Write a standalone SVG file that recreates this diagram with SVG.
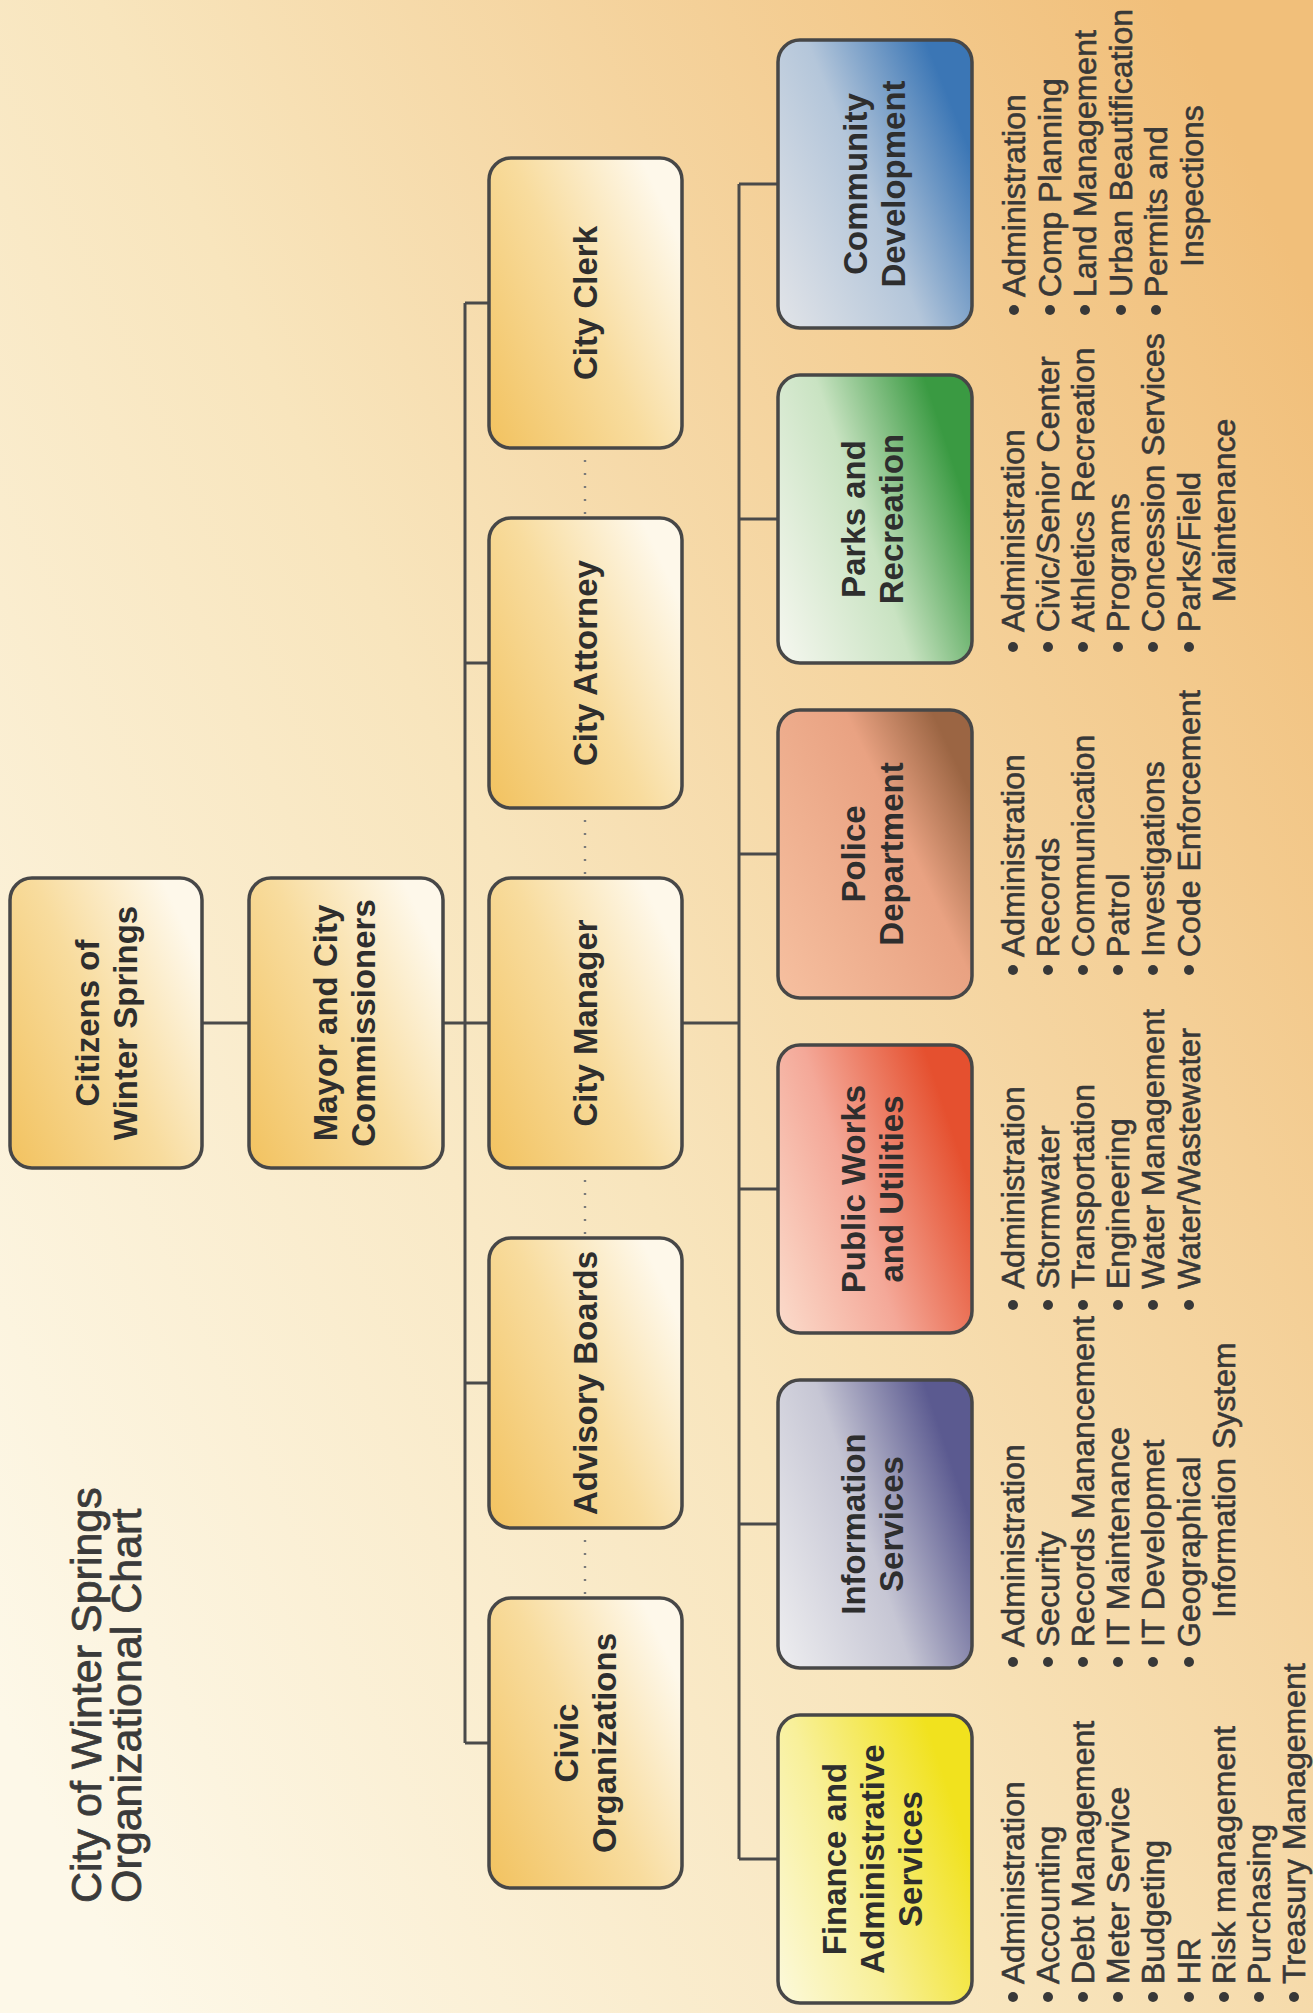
<svg xmlns="http://www.w3.org/2000/svg" width="1313" height="2013" viewBox="0 0 1313 2013">
<defs>
<linearGradient id="bg" x1="0" y1="0.85" x2="1" y2="0.15">
<stop offset="0" stop-color="#fdf8e8"/>
<stop offset="0.45" stop-color="#f8e5bd"/>
<stop offset="1" stop-color="#f1bf7a"/>
</linearGradient>
<linearGradient id="gold" x1="0" y1="0" x2="0.7" y2="1">
<stop offset="0" stop-color="#f2c25f"/>
<stop offset="0.55" stop-color="#f8dc9e"/>
<stop offset="1" stop-color="#fef8ea"/>
</linearGradient>
<linearGradient id="gFin" x1="0" y1="0" x2="0.5" y2="1">
<stop offset="0" stop-color="#fcf9dc"/>
<stop offset="0.45" stop-color="#f8f09a"/>
<stop offset="1" stop-color="#f1e21e"/>
</linearGradient>
<linearGradient id="gInf" x1="0" y1="0" x2="0.5" y2="1">
<stop offset="0" stop-color="#eeeef0"/>
<stop offset="0.55" stop-color="#c6c6d4"/>
<stop offset="1" stop-color="#5b5a90"/>
</linearGradient>
<linearGradient id="gPW" x1="0" y1="0" x2="0.5" y2="1">
<stop offset="0" stop-color="#fbdccc"/>
<stop offset="0.5" stop-color="#f4a898"/>
<stop offset="1" stop-color="#e5502f"/>
</linearGradient>
<linearGradient id="gPol" x1="0" y1="0" x2="0.7" y2="1">
<stop offset="0" stop-color="#f6c0a0"/>
<stop offset="0.7" stop-color="#e9a282"/>
<stop offset="1" stop-color="#9b6543"/>
</linearGradient>
<linearGradient id="gPar" x1="0" y1="0" x2="0.5" y2="1">
<stop offset="0" stop-color="#f6f7f0"/>
<stop offset="0.55" stop-color="#c9e3c2"/>
<stop offset="1" stop-color="#3a9a42"/>
</linearGradient>
<linearGradient id="gCom" x1="0" y1="0" x2="0.6" y2="1">
<stop offset="0" stop-color="#e2e4e8"/>
<stop offset="0.55" stop-color="#b4c6da"/>
<stop offset="1" stop-color="#3b76b5"/>
</linearGradient>
<style>
.box{stroke:#474747;stroke-width:3.5}
.t{font-family:"Liberation Sans",Arial,sans-serif;font-weight:bold;font-size:33px;fill:#2e2e2e;text-anchor:middle;dominant-baseline:central}
.li{font-family:"Liberation Sans",Arial,sans-serif;font-size:32px;fill:#383838;stroke:#383838;stroke-width:0.6;dominant-baseline:central}
.ti{font-family:"Liberation Sans",Arial,sans-serif;font-size:43px;fill:#3a3a3a;stroke:#3a3a3a;stroke-width:0.8;dominant-baseline:central}
.ln{stroke:#4a4a4a;stroke-width:3;fill:none}
.dt{stroke:#7a7a7a;stroke-width:2.4;fill:none;stroke-dasharray:2 11}
.b{fill:#383838}
</style>
</defs>
<rect x="0" y="0" width="1313" height="2013" fill="url(#bg)"/>
<g transform="translate(0,2013) rotate(-90)">
<g id="title">
<text class="ti" x="110" y="86">City of Winter Springs</text>
<text class="ti" x="110" y="126">Organizational Chart</text>
</g>
<g id="connectors">
<path class="ln" d="M990 202V249M990 443V489M990 682V739"/>
<path class="ln" d="M270 465H1710M270 465V489M630 465V489M1350 465V489M1710 465V489"/>
<path class="ln" d="M154 739H1829M154 739V778M489 739V778M824 739V778M1159 739V778M1494 739V778M1829 739V778"/>
<path class="dt" d="M419 585H483M779 585H843M1139 585H1203M1499 585H1563"/>
</g>
<g id="citizens">
<rect class="box" x="845" y="10" width="290" height="192" rx="22" fill="url(#gold)"/>
<text class="t" x="990" y="87">Citizens of</text>
<text class="t" x="990" y="125">Winter Springs</text>
</g>
<g id="mayor">
<rect class="box" x="845" y="249" width="290" height="194" rx="22" fill="url(#gold)"/>
<text class="t" x="990" y="325">Mayor and City</text>
<text class="t" x="990" y="363">Commissioners</text>
</g>
<g id="civic">
<rect class="box" x="125" y="489" width="290" height="193" rx="22" fill="url(#gold)"/>
<text class="t" x="270" y="566">Civic</text>
<text class="t" x="270" y="604">Organizations</text>
</g>
<g id="advisory">
<rect class="box" x="485" y="489" width="290" height="193" rx="22" fill="url(#gold)"/>
<text class="t" x="630" y="585">Advisory Boards</text>
</g>
<g id="manager">
<rect class="box" x="845" y="489" width="290" height="193" rx="22" fill="url(#gold)"/>
<text class="t" x="990" y="585">City Manager</text>
</g>
<g id="attorney">
<rect class="box" x="1205" y="489" width="290" height="193" rx="22" fill="url(#gold)"/>
<text class="t" x="1350" y="585">City Attorney</text>
</g>
<g id="clerk">
<rect class="box" x="1565" y="489" width="290" height="193" rx="22" fill="url(#gold)"/>
<text class="t" x="1710" y="585">City Clerk</text>
</g>
<g id="finance">
<rect class="box" x="10" y="778" width="288" height="194" rx="22" fill="url(#gFin)"/>
<text class="t" x="154" y="834">Finance and</text>
<text class="t" x="154" y="872">Administrative</text>
<text class="t" x="154" y="910">Services</text>
<g class="b"><circle cx="16" cy="1013" r="5"/><circle cx="16" cy="1048" r="5"/><circle cx="16" cy="1083" r="5"/><circle cx="16" cy="1118" r="5"/><circle cx="16" cy="1153" r="5"/><circle cx="16" cy="1189" r="5"/><circle cx="16" cy="1224" r="5"/><circle cx="16" cy="1259" r="5"/><circle cx="16" cy="1294" r="5"/></g>
<text class="li" x="29" y="1013">Administration</text>
<text class="li" x="29" y="1048">Accounting</text>
<text class="li" x="29" y="1083">Debt Management</text>
<text class="li" x="29" y="1118">Meter Service</text>
<text class="li" x="29" y="1153">Budgeting</text>
<text class="li" x="29" y="1189">HR</text>
<text class="li" x="29" y="1224">Risk management</text>
<text class="li" x="29" y="1259">Purchasing</text>
<text class="li" x="29" y="1294">Treasury Management</text>
</g>
<g id="info">
<rect class="box" x="345" y="778" width="288" height="194" rx="22" fill="url(#gInf)"/>
<text class="t" x="489" y="853">Information</text>
<text class="t" x="489" y="891">Services</text>
<g class="b"><circle cx="351" cy="1013" r="5"/><circle cx="351" cy="1048" r="5"/><circle cx="351" cy="1083" r="5"/><circle cx="351" cy="1118" r="5"/><circle cx="351" cy="1153" r="5"/><circle cx="351" cy="1189" r="5"/></g>
<text class="li" x="366" y="1013">Administration</text>
<text class="li" x="366" y="1048">Security</text>
<text class="li" x="366" y="1083">Records Manancement</text>
<text class="li" x="366" y="1118">IT Maintenance</text>
<text class="li" x="366" y="1153">IT Developmet</text>
<text class="li" x="366" y="1189">Geographical</text>
<text class="li" x="395" y="1224">Information System</text>
</g>
<g id="publicworks">
<rect class="box" x="680" y="778" width="288" height="194" rx="22" fill="url(#gPW)"/>
<text class="t" x="824" y="853">Public Works</text>
<text class="t" x="824" y="891">and Utilities</text>
<g class="b"><circle cx="708" cy="1013" r="5"/><circle cx="708" cy="1048" r="5"/><circle cx="708" cy="1083" r="5"/><circle cx="708" cy="1118" r="5"/><circle cx="708" cy="1153" r="5"/><circle cx="708" cy="1189" r="5"/></g>
<text class="li" x="724" y="1013">Administration</text>
<text class="li" x="724" y="1048">Stormwater</text>
<text class="li" x="724" y="1083">Transportation</text>
<text class="li" x="724" y="1118">Engineering</text>
<text class="li" x="724" y="1153">Water Management</text>
<text class="li" x="724" y="1189">Water/Wastewater</text>
</g>
<g id="police">
<rect class="box" x="1015" y="778" width="288" height="194" rx="22" fill="url(#gPol)"/>
<text class="t" x="1159" y="853">Police</text>
<text class="t" x="1159" y="891">Department</text>
<g class="b"><circle cx="1043" cy="1013" r="5"/><circle cx="1043" cy="1048" r="5"/><circle cx="1043" cy="1083" r="5"/><circle cx="1043" cy="1118" r="5"/><circle cx="1043" cy="1153" r="5"/><circle cx="1043" cy="1189" r="5"/></g>
<text class="li" x="1056" y="1013">Administration</text>
<text class="li" x="1056" y="1048">Records</text>
<text class="li" x="1056" y="1083">Communication</text>
<text class="li" x="1056" y="1118">Patrol</text>
<text class="li" x="1056" y="1153">Investigations</text>
<text class="li" x="1056" y="1189">Code Enforcement</text>
</g>
<g id="parks">
<rect class="box" x="1350" y="778" width="288" height="194" rx="22" fill="url(#gPar)"/>
<text class="t" x="1494" y="853">Parks and</text>
<text class="t" x="1494" y="891">Recreation</text>
<g class="b"><circle cx="1366" cy="1013" r="5"/><circle cx="1366" cy="1048" r="5"/><circle cx="1366" cy="1083" r="5"/><circle cx="1366" cy="1118" r="5"/><circle cx="1366" cy="1153" r="5"/><circle cx="1366" cy="1189" r="5"/></g>
<text class="li" x="1381" y="1013">Administration</text>
<text class="li" x="1381" y="1048">Civic/Senior Center</text>
<text class="li" x="1381" y="1083">Athletics Recreation</text>
<text class="li" x="1381" y="1118">Programs</text>
<text class="li" x="1381" y="1153">Concession Services</text>
<text class="li" x="1381" y="1189">Parks/Field</text>
<text class="li" x="1411" y="1224">Maintenance</text>
</g>
<g id="community">
<rect class="box" x="1685" y="778" width="288" height="194" rx="22" fill="url(#gCom)"/>
<text class="t" x="1829" y="855">Community</text>
<text class="t" x="1829" y="893">Development</text>
<g class="b"><circle cx="1703" cy="1014" r="5"/><circle cx="1703" cy="1050" r="5"/><circle cx="1703" cy="1085" r="5"/><circle cx="1703" cy="1121" r="5"/><circle cx="1703" cy="1156" r="5"/></g>
<text class="li" x="1716" y="1014">Administration</text>
<text class="li" x="1716" y="1050">Comp Planning</text>
<text class="li" x="1716" y="1085">Land Management</text>
<text class="li" x="1716" y="1121">Urban Beautification</text>
<text class="li" x="1716" y="1156">Permits and</text>
<text class="li" x="1746" y="1192">Inspections</text>
</g>
</g>
</svg>
